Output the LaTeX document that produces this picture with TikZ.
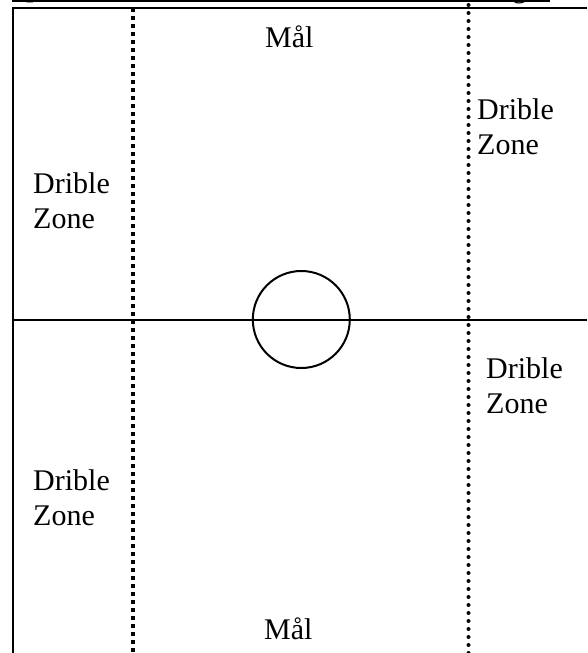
\documentclass[tikz,border=0pt]{standalone}
\usepackage{fontspec}
\setmainfont{Liberation Serif}
\begin{document}
\begin{tikzpicture}[x=1pt,y=-1pt,
  lbl/.style={anchor=base west,inner sep=0pt,font=\fontsize{30}{34.5}\selectfont,align=left},
  frame/.style={line width=2pt},
  sqdots/.style={line width=4pt,dash pattern=on 4pt off 4pt},
  rddots/.style={line width=4pt,line cap=round,dash pattern=on 0pt off 8pt}]
\useasboundingbox (0,0) rectangle (587,653);
% cut-off caption above
\begin{scope}
\clip (0,0) rectangle (587,653);
\node[lbl] (capp) at (26,-3) {p};
\node[lbl] (capg) at (512,-2) {g};
\draw[line width=1.8pt] (12,1) -- (550,1);
\end{scope}
% field
\draw[frame] (587,8) -- (13,8) -- (13,653);
\draw[frame] (13,319.5) -- (587,319.5);
\draw[sqdots] (133,8) -- (133,653);
\draw[rddots] (468.5,5) -- (468.5,653);
\draw[frame] (301.3,319.5) circle (48.5);
% labels (base = baseline of last line)
\node[lbl] (mtop) at (265,47) {Mål};
\node[lbl] (mbot) at (264,639) {Mål};
\node[lbl] (dlt) at (33,228) {Drible\\Zone};
\node[lbl] (drt) at (477,154) {Drible\\Zone};
\node[lbl] (dlb) at (33,525) {Drible\\Zone};
\node[lbl] (drb) at (486,413) {Drible\\Zone};
\end{tikzpicture}
\end{document}
